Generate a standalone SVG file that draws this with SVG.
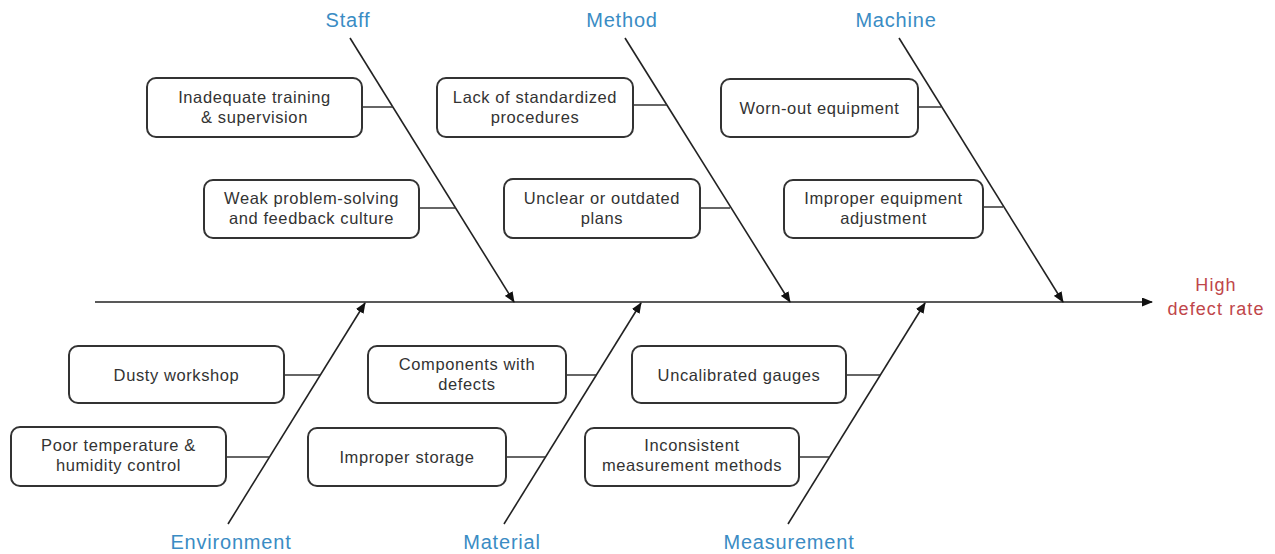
<svg xmlns="http://www.w3.org/2000/svg" width="1275" height="554" viewBox="0 0 1275 554">
  <style>
    .box { fill: #ffffff; stroke: #333333; stroke-width: 2; }
    .txt { font-family: "Liberation Sans", Arial, sans-serif; font-size: 16.5px; letter-spacing: 0.6px; fill: #333333; text-anchor: middle; }
    .cat { font-family: "Liberation Sans", Arial, sans-serif; font-size: 20px; letter-spacing: 0.8px; fill: #3a8cc4; text-anchor: middle; }
    .effect { font-family: "Liberation Sans", Arial, sans-serif; font-size: 18px; letter-spacing: 1.1px; fill: #c0464a; text-anchor: middle; }
    .bone { stroke: #222222; stroke-width: 1.6; fill: none; }
    .stub { stroke: #333333; stroke-width: 1.5; fill: none; }
  </style>
  <defs>
    <marker id="arrow" markerWidth="11" markerHeight="9" refX="10" refY="4.5" orient="auto" markerUnits="userSpaceOnUse">
      <path d="M0,0 L11,4.5 L0,9 Z" fill="#111111"/>
    </marker>
  </defs>
  <rect width="1275" height="554" fill="#ffffff"/>

  <!-- spine and main bones -->
  <g id="connectors">
    <line class="bone" x1="95" y1="302" x2="1152" y2="302" marker-end="url(#arrow)"/>
    <line class="bone" x1="350" y1="38" x2="514" y2="302" marker-end="url(#arrow)"/>
    <line class="bone" x1="625" y1="38" x2="790" y2="302" marker-end="url(#arrow)"/>
    <line class="bone" x1="899" y1="38" x2="1063" y2="302" marker-end="url(#arrow)"/>
    <line class="bone" x1="228" y1="524" x2="365" y2="303" marker-end="url(#arrow)"/>
    <line class="bone" x1="504" y1="524" x2="641" y2="303" marker-end="url(#arrow)"/>
    <line class="bone" x1="788" y1="524" x2="925" y2="303" marker-end="url(#arrow)"/>

    <!-- cause stubs -->
    <line class="stub" x1="362" y1="107" x2="393" y2="107"/>
    <line class="stub" x1="419" y1="208" x2="456" y2="208"/>
    <line class="stub" x1="633" y1="105" x2="667" y2="105"/>
    <line class="stub" x1="700" y1="208" x2="730" y2="208"/>
    <line class="stub" x1="918" y1="107" x2="941" y2="107"/>
    <line class="stub" x1="983" y1="207" x2="1003" y2="207"/>
    <line class="stub" x1="284" y1="375" x2="320" y2="375"/>
    <line class="stub" x1="226" y1="457" x2="270" y2="457"/>
    <line class="stub" x1="566" y1="375" x2="596" y2="375"/>
    <line class="stub" x1="506" y1="457" x2="545" y2="457"/>
    <line class="stub" x1="846" y1="375" x2="880" y2="375"/>
    <line class="stub" x1="799" y1="457" x2="830" y2="457"/>
  </g>

  <!-- category labels -->
  <g id="cat-staff"><text class="cat" x="348" y="27">Staff</text></g>
  <g id="cat-method"><text class="cat" x="622" y="27">Method</text></g>
  <g id="cat-machine"><text class="cat" x="896" y="27">Machine</text></g>
  <g id="cat-environment"><text class="cat" x="231" y="549">Environment</text></g>
  <g id="cat-material"><text class="cat" x="502" y="549">Material</text></g>
  <g id="cat-measurement"><text class="cat" x="789" y="549">Measurement</text></g>

  <!-- effect -->
  <g id="effect">
    <text class="effect" x="1216" y="291">High</text>
    <text class="effect" x="1216" y="315">defect rate</text>
  </g>

  <!-- Staff causes -->
  <g id="staff-1">
    <rect class="box" x="147" y="78" width="215" height="59" rx="9"/>
    <text class="txt" x="254.5" y="103">Inadequate training</text>
    <text class="txt" x="254.5" y="123">&amp; supervision</text>
  </g>
  <g id="staff-2">
    <rect class="box" x="204" y="180" width="215" height="58" rx="9"/>
    <text class="txt" x="311.5" y="204">Weak problem-solving</text>
    <text class="txt" x="311.5" y="224">and feedback culture</text>
  </g>

  <!-- Method causes -->
  <g id="method-1">
    <rect class="box" x="437" y="78" width="196" height="59" rx="9"/>
    <text class="txt" x="535" y="103">Lack of standardized</text>
    <text class="txt" x="535" y="123">procedures</text>
  </g>
  <g id="method-2">
    <rect class="box" x="504" y="179" width="196" height="59" rx="9"/>
    <text class="txt" x="602" y="204">Unclear or outdated</text>
    <text class="txt" x="602" y="224">plans</text>
  </g>

  <!-- Machine causes -->
  <g id="machine-1">
    <rect class="box" x="721" y="79" width="197" height="58" rx="9"/>
    <text class="txt" x="819.5" y="114">Worn-out equipment</text>
  </g>
  <g id="machine-2">
    <rect class="box" x="784" y="180" width="199" height="58" rx="9"/>
    <text class="txt" x="883.5" y="204">Improper equipment</text>
    <text class="txt" x="883.5" y="224">adjustment</text>
  </g>

  <!-- Environment causes -->
  <g id="environment-1">
    <rect class="box" x="69" y="346" width="215" height="57" rx="9"/>
    <text class="txt" x="176.5" y="381">Dusty workshop</text>
  </g>
  <g id="environment-2">
    <rect class="box" x="11" y="427" width="215" height="59" rx="9"/>
    <text class="txt" x="118.5" y="451">Poor temperature &amp;</text>
    <text class="txt" x="118.5" y="471">humidity control</text>
  </g>

  <!-- Material causes -->
  <g id="material-1">
    <rect class="box" x="368" y="346" width="198" height="57" rx="9"/>
    <text class="txt" x="467" y="370">Components with</text>
    <text class="txt" x="467" y="390">defects</text>
  </g>
  <g id="material-2">
    <rect class="box" x="308" y="428" width="198" height="58" rx="9"/>
    <text class="txt" x="407" y="463">Improper storage</text>
  </g>

  <!-- Measurement causes -->
  <g id="measurement-1">
    <rect class="box" x="632" y="346" width="214" height="57" rx="9"/>
    <text class="txt" x="739" y="381">Uncalibrated gauges</text>
  </g>
  <g id="measurement-2">
    <rect class="box" x="585" y="428" width="214" height="58" rx="9"/>
    <text class="txt" x="692" y="451">Inconsistent</text>
    <text class="txt" x="692" y="471">measurement methods</text>
  </g>
</svg>
